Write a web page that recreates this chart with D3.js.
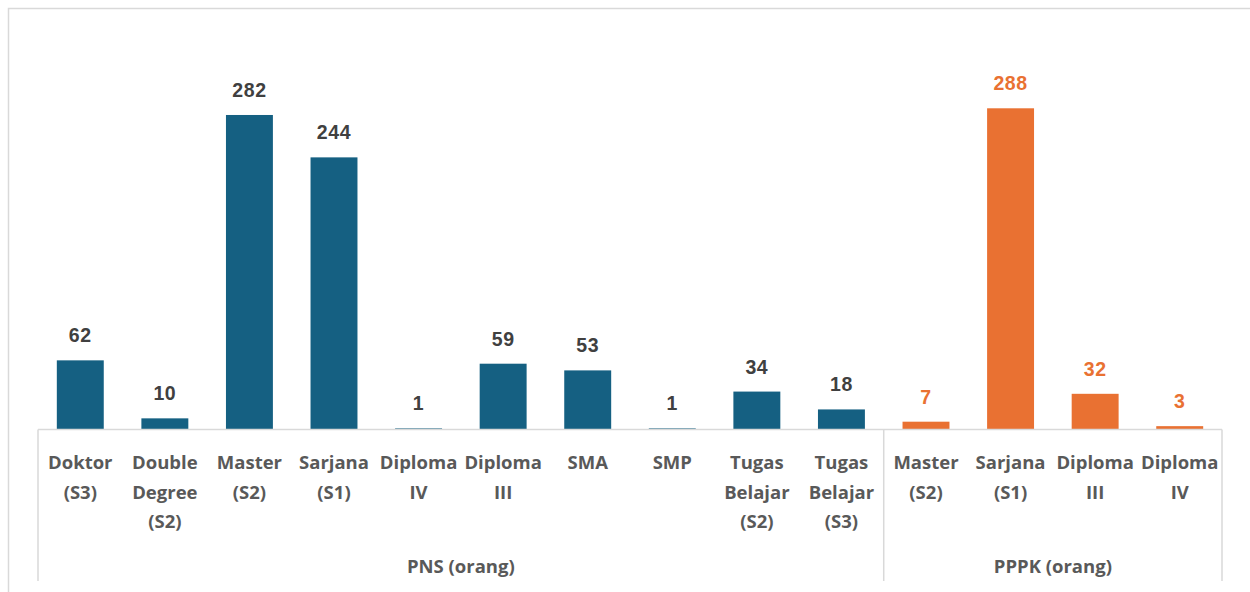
<!DOCTYPE html>
<html>
<head>
<meta charset="utf-8">
<script src="https://cdn.jsdelivr.net/npm/d3@7"></script>
<style>
  html, body { margin: 0; padding: 0; background: #ffffff; }
  svg { display: block; }
</style>
</head>
<body>
<svg id="chart" width="1250" height="592"></svg>
<script>
// ---- data ----
const groups = ["PNS (orang)", "PPPK (orang)"];
const pnsCategories = ["Doktor\n(S3)", "Double\nDegree\n(S2)", "Master\n(S2)", "Sarjana\n(S1)", "Diploma\nIV", "Diploma\nIII", "SMA", "SMP", "Tugas\nBelajar\n(S2)", "Tugas\nBelajar\n(S3)"];
const pnsValues = [62, 10, 282, 244, 1, 59, 53, 1, 34, 18];
const pppkCategories = ["Master\n(S2)", "Sarjana\n(S1)", "Diploma\nIII", "Diploma\nIV"];
const pppkValues = [7, 288, 32, 3];

const colors = { "PNS (orang)": "#156082", "PPPK (orang)": "#E97132" };
const labelColors = { "PNS (orang)": "#404040", "PPPK (orang)": "#E97132" };

// build table
const rows = [];
pnsCategories.forEach((c, i) => rows.push({ key: "pns-" + i, group: groups[0], label: c, value: pnsValues[i] }));
pppkCategories.forEach((c, i) => rows.push({ key: "pppk-" + i, group: groups[1], label: c, value: pppkValues[i] }));

const svg = d3.select("#chart");
const left = 38, right = 1222, baseY = 429.5, axisBottom = 581;
const fontFam = "'Open Sans', 'Noto Sans', sans-serif";

// outer chart border
svg.append("rect").attr("x", 8.5).attr("y", 8.5).attr("width", 1260).attr("height", 600)
  .attr("fill", "#ffffff").attr("stroke", "#d9d9d9").attr("stroke-width", 1.5);

const x = d3.scaleBand().domain(rows.map(d => d.key)).range([left, right]).paddingInner(0.445).paddingOuter(0.2225);
const y = d3.scaleLinear().domain([0, 300]).range([baseY, baseY - 300 * 1.1153]);

// bars
svg.append("g").selectAll("rect").data(rows).join("rect")
  .attr("x", d => x(d.key))
  .attr("y", d => y(d.value))
  .attr("width", x.bandwidth())
  .attr("height", d => y(0) - y(d.value))
  .attr("fill", d => colors[d.group]);

// value labels
svg.append("g").selectAll("text").data(rows).join("text")
  .attr("x", d => x(d.key) + x.bandwidth() / 2)
  .attr("y", d => y(d.value) - 18)
  .attr("text-anchor", "middle")
  .attr("font-family", "'Liberation Sans', Arial, sans-serif")
  .attr("font-weight", "bold")
  .attr("font-size", 19.5)
  .attr("letter-spacing", 0.6)
  .attr("fill", d => labelColors[d.group])
  .text(d => d.value);

// axis lines
const axisG = svg.append("g").attr("stroke", "#d9d9d9").attr("stroke-width", 1.5);
axisG.append("line").attr("x1", left).attr("x2", right).attr("y1", baseY).attr("y2", baseY);
const step = x.step();
const pnsEnd = left + step * pnsCategories.length;
[left, pnsEnd, right].forEach(px => {
  axisG.append("line").attr("x1", px).attr("x2", px).attr("y1", baseY).attr("y2", axisBottom);
});

// category labels
const catG = svg.append("g");
rows.forEach(d => {
  const cx = x(d.key) + x.bandwidth() / 2;
  const t = catG.append("text")
    .attr("x", cx).attr("y", 469)
    .attr("text-anchor", "middle")
    .attr("font-family", fontFam)
    .attr("font-weight", 700)
    .attr("font-size", 18.5)
    .attr("fill", "#595959");
  d.label.split("\n").forEach((ln, i) => {
    t.append("tspan").attr("x", cx).attr("y", 469 + i * 29.5).text(ln);
  });
});

// group labels
const groupSpans = [[left, pnsEnd], [pnsEnd, right]];
groups.forEach((g, i) => {
  svg.append("text")
    .attr("x", (groupSpans[i][0] + groupSpans[i][1]) / 2)
    .attr("y", 573)
    .attr("text-anchor", "middle")
    .attr("font-family", fontFam)
    .attr("font-weight", 700)
    .attr("font-size", 18.5)
    .attr("fill", "#595959")
    .text(g);
});
</script>
</body>
</html>
